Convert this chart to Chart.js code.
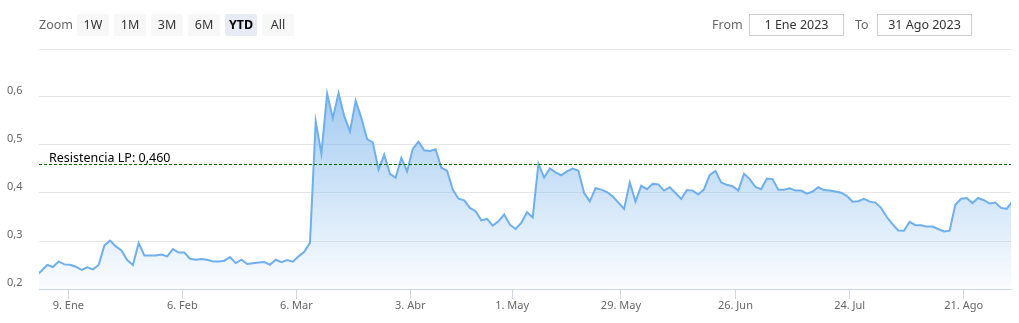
<!DOCTYPE html>
<html><head><meta charset="utf-8">
<script src="https://cdn.jsdelivr.net/npm/chart.js@4.4.0/dist/chart.umd.min.js"></script>
<style>
html,body{margin:0;padding:0;background:#fff;}
#wrap{position:relative;width:1019px;height:323px;font-family:"Noto Sans",sans-serif;overflow:hidden;}
canvas{position:absolute;left:0;top:0;}
.lbl{position:absolute;top:14px;height:22px;line-height:22px;font-size:12.5px;color:#666;}
.btn{position:absolute;top:14px;width:32px;height:22px;line-height:22px;text-align:center;background:#f7f7f7;border-radius:2px;font-size:12.5px;color:#333;}
.btn.sel{background:#e6ebf5;font-weight:bold;color:#000;}
.inp{position:absolute;top:14px;height:22px;line-height:20px;border:1px solid #ccc;box-sizing:border-box;text-align:center;font-size:12.5px;color:#333;width:95px;}
</style></head>
<body>
<div id="wrap">
<canvas id="c" width="1019" height="323"></canvas>
</div>
<script>
// ---- data ----
// first value is the last trading day before the visible range (clipped at the left edge)
const firstIndex = -1;
const values = [
0.227,
0.238,0.250,0.2458,0.2575,0.2513,0.2506,0.2465,0.240,0.245,0.2408,
0.250,0.2908,0.301,0.2888,0.2804,0.2604,0.250,0.2958,0.270,0.270,
0.270,0.272,0.268,0.283,0.276,0.276,0.263,0.261,0.2625,0.261,
0.2575,0.2575,0.259,0.2667,0.254,0.261,0.252,0.2535,0.255,0.256,
0.2506,0.261,0.256,0.2604,0.257,0.268,0.2777,0.296,0.549,0.482,
0.607,0.556,0.608,0.560,0.528,0.592,0.556,0.5125,0.5055,0.4485,
0.480,0.440,0.432,0.473,0.445,0.492,0.507,0.489,0.4875,0.491,
0.4527,0.4465,0.407,0.388,0.3846,0.369,0.362,0.343,0.346,0.332,
0.341,0.355,0.334,0.325,0.3375,0.360,0.349,0.461,0.432,0.451,
0.443,0.437,0.445,0.451,0.4465,0.400,0.3825,0.410,0.407,0.402,
0.393,0.380,0.367,0.422,0.382,0.415,0.408,0.419,0.418,0.405,
0.412,0.400,0.3875,0.406,0.405,0.397,0.408,0.4375,0.446,0.422,
0.417,0.414,0.405,0.440,0.429,0.4125,0.408,0.430,0.429,0.407,
0.407,0.4096,0.405,0.405,0.3985,0.403,0.412,0.406,0.405,0.403,
0.4006,0.394,0.382,0.383,0.388,0.382,0.380,0.369,0.350,0.335,
0.322,0.3215,0.340,0.333,0.333,0.330,0.330,0.325,0.320,0.3215,
0.3756,0.388,0.3896,0.379,0.3896,0.385,0.378,0.380,0.369,0.367,
0.3825
];
const xMin = -0.45, xMax = 169.75;
const tickPos = [4.68,24.64,44.6,64.56,82.4,101.45,121.5,141.5,161.46];
const tickLabels = ['9. Ene','6. Feb','6. Mar','3. Abr','1. May','29. May','26. Jun','24. Jul','21. Ago'];
const yTicks = [0.2,0.3,0.4,0.5,0.6,0.7];
const resistance = 0.46;
const resistanceLabel = 'Resistencia LP: 0,460';
const rangeButtons = ['1W','1M','3M','6M','YTD','All'];
const selectedButton = 'YTD';
const fromDate = '1 Ene 2023';
const toDate = '31 Ago 2023';

// ---- range selector (HTML text) ----
const wrap = document.getElementById('wrap');
function add(cls, text, left){
  const d=document.createElement('div'); d.className=cls; d.textContent=text; d.style.left=left+'px';
  wrap.appendChild(d); return d;
}
add('lbl','Zoom',39);
rangeButtons.forEach((b,i)=>add('btn'+(b===selectedButton?' sel':''), b, 77+i*37));
add('lbl','From',712);
add('inp',fromDate,749);
add('lbl','To',855);
add('inp',toDate,877);

// ---- chart ----
const resPlugin = {
  id:'res',
  afterDatasetsDraw(chart){
    const {ctx, chartArea:a, scales:{y}} = chart;
    const py = Math.round(y.getPixelForValue(resistance)) + 0.5;
    ctx.save();
    ctx.strokeStyle = '#006400'; ctx.lineWidth = 1; ctx.setLineDash([3,2]);
    ctx.beginPath(); ctx.moveTo(a.left, py); ctx.lineTo(a.right, py); ctx.stroke();
    ctx.setLineDash([]);
    ctx.fillStyle = '#000'; ctx.font = '12.5px "Noto Sans"'; ctx.textBaseline = 'alphabetic';
    ctx.fillText(resistanceLabel, a.left + 10, py - 3);
    ctx.restore();
  }
};

new Chart(document.getElementById('c'), {
  type:'line',
  data:{datasets:[{
    data: values.map((v,i)=>({x:i+firstIndex,y:v})),
    borderColor:'#6fafee', borderWidth:2, pointRadius:0, tension:0, fill:'start',
    backgroundColor:(c)=>{
      const a=c.chart.chartArea; if(!a) return 'rgba(124,181,236,0.3)';
      const g=c.chart.ctx.createLinearGradient(0,a.top,0,a.bottom);
      g.addColorStop(0,'rgba(124,181,236,0.85)');
      g.addColorStop(1,'rgba(124,181,236,0.03)');
      return g;
    }
  }]},
  options:{
    responsive:false, animation:false,
    layout:{padding:{left:7,right:8,top:49,bottom:0}},
    plugins:{legend:{display:false},tooltip:{enabled:false}},
    scales:{
      x:{
        type:'linear', min:xMin, max:xMax,
        afterBuildTicks:s=>{s.ticks=tickPos.map(v=>({value:v}));},
        afterFit:s=>{s.height=34;},
        grid:{drawOnChartArea:false, tickLength:10, color:'#ccd6eb'},
        border:{color:'#ccd6eb'},
        ticks:{
          autoSkip:false, maxRotation:0, padding:0, color:'#666',
          font:{family:'Noto Sans', size:11},
          callback:(v)=>{const k=tickPos.indexOf(v); return k>=0?tickLabels[k]:'';}
        }
      },
      y:{
        min:0.2, max:0.7,
        afterBuildTicks:s=>{s.ticks=yTicks.map(v=>({value:v}));},
        afterFit:s=>{s.width=32;},
        grid:{color:'#e6e6e6', drawTicks:false},
        border:{display:false},
        ticks:{
          crossAlign:'far', labelOffset:-6, padding:0, color:'#666',
          font:{family:'Noto Sans', size:11},
          callback:(v)=> v>0.65 ? '' : v.toFixed(1).replace('.',',')
        }
      }
    }
  },
  plugins:[resPlugin]
});
</script>
</body></html>
